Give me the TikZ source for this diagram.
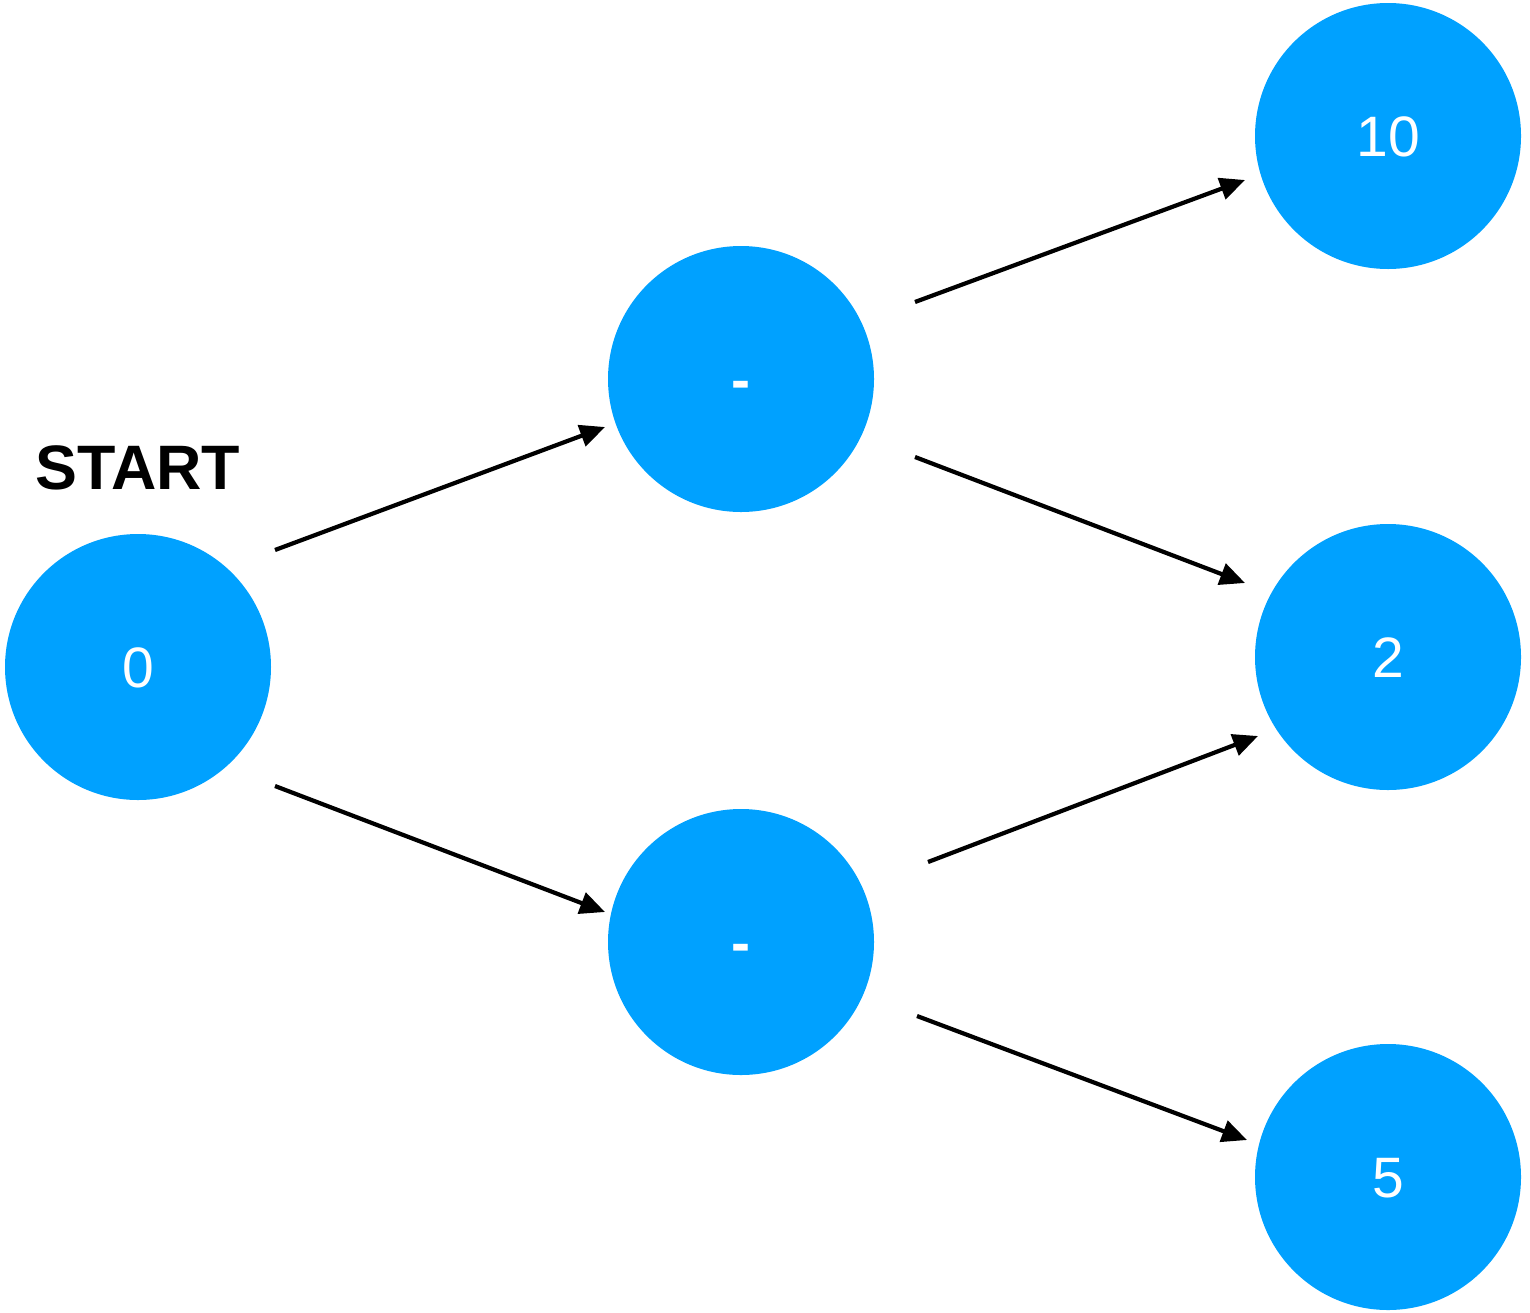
\documentclass[tikz,border=0pt]{standalone}
\usepackage{fontspec}
\setmainfont{Liberation Sans}
\usetikzlibrary{arrows.meta,calc}
\definecolor{nodeblue}{RGB}{0,161,255}
\newcommand{\dashlabel}{{\bfseries -}}
\begin{document}
\begin{tikzpicture}[x=0.5pt,y=-0.5pt,
  circ/.style={circle,fill=nodeblue,draw=none,minimum size=133pt,inner sep=0pt,
    text height=20.4pt,text depth=0pt,
    text=white,font=\fontsize{28.5}{30}\selectfont},
  conn/.style={line width=2.1pt,-{Triangle[length=12.5pt,width=11pt]}}]
\useasboundingbox (0,0) rectangle (1530,1312);
\node[circ] (n0) at (138,667) {0};
\node[circ] (a) at (741,379) {\dashlabel};
\node[circ] (b) at (741,942) {\dashlabel};
\node[circ] (t) at (1388,136) {10};
\node[circ] (m) at (1388,657) {2};
\node[circ] (f) at (1388,1177) {5};
\node[font=\bfseries\fontsize{31.4}{33}\selectfont] (st) at (138,468) {START};
\draw[conn] ($(n0.center)+(137,-117)$) -- ($(a.center)+(-136,48)$);
\draw[conn] ($(n0.center)+(137,119)$) -- ($(b.center)+(-136,-30)$);
\draw[conn] ($(a.center)+(174,-77)$) -- ($(t.center)+(-143,44)$);
\draw[conn] ($(a.center)+(174,78)$) -- ($(m.center)+(-143,-74)$);
\draw[conn] ($(b.center)+(187,-80)$) -- ($(m.center)+(-130,79)$);
\draw[conn] ($(b.center)+(176,74)$) -- ($(f.center)+(-141,-37)$);
\end{tikzpicture}
\end{document}
